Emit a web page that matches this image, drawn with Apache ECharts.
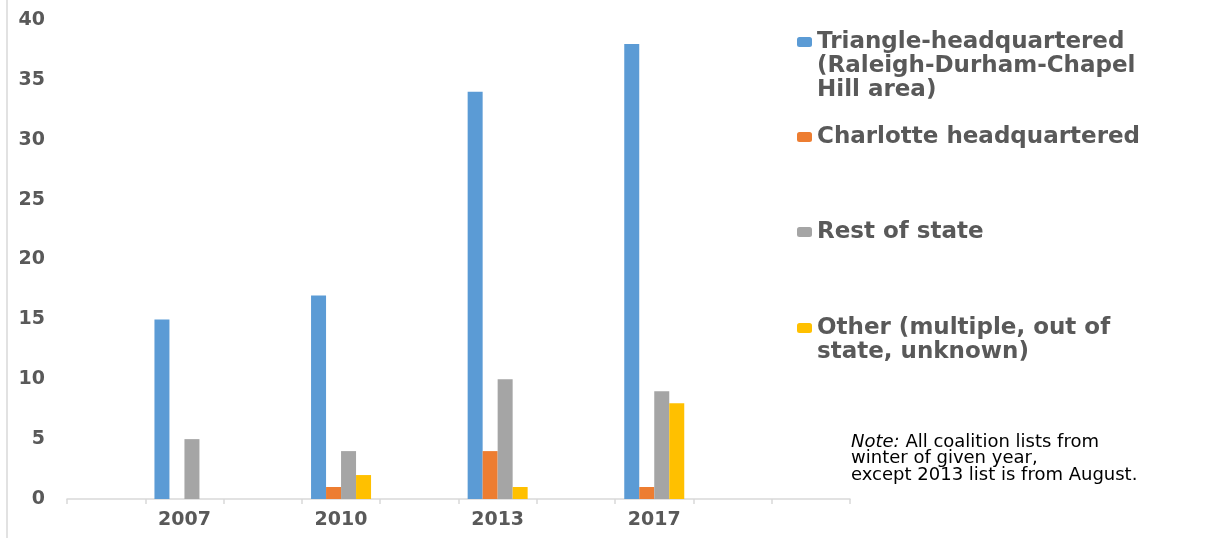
<!DOCTYPE html>
<html>
<head>
<meta charset="utf-8">
<script src="https://cdn.jsdelivr.net/npm/echarts@6/dist/echarts.min.js"></script>
<style>
html,body{margin:0;padding:0;background:#fff;}
#chart{width:1206px;height:538px;}
</style>
</head>
<body>
<div id="chart"></div>
<script>
// Categories (blank slots reproduce the spacing of the original chart)
var categories = ['', '2007', '', '2010', '', '2013', '', '2017', '', ''];
var seriesNames = [
  'Triangle-headquartered (Raleigh-Durham-Chapel Hill area)',
  'Charlotte headquartered',
  'Rest of state',
  'Other (multiple, out of state, unknown)'
];
var legendLines = [
  'Triangle-headquartered\n(Raleigh-Durham-Chapel\nHill area)',
  'Charlotte headquartered',
  'Rest of state',
  'Other (multiple, out of\nstate, unknown)'
];
var triangle  = [null, 15, null, 17, null, 34, null, 38, null, null];
var charlotte = [null, 0,  null, 1,  null, 4,  null, 1,  null, null];
var restState = [null, 5,  null, 4,  null, 10, null, 9,  null, null];
var other     = [null, 0,  null, 2,  null, 1,  null, 8,  null, null];
var yTicks = [0, 5, 10, 15, 20, 25, 30, 35, 40];
var colors = ['#5B9BD5', '#ED7D31', '#A5A5A5', '#FFC000'];
var noteText = 'All coalition lists from\nwinter of given year,\nexcept 2013 list is from August.';

var seriesData = [triangle, charlotte, restState, other];
var chart = echarts.init(document.getElementById('chart'));

var LH = 24;
var legendTops = [-18, 125, 220, 292];
var legends = seriesNames.map(function (name, i) {
  var n = legendLines[i].split('\n').length;
  // leading blank lines keep the first text line level with the legend icon
  var label = new Array(n).join('\n') + legendLines[i];
  return {
    data: [name],
    orient: 'vertical',
    left: 797,
    top: legendTops[i],
    padding: 0,
    itemWidth: 15,
    itemHeight: 10,
    itemGap: 0,
    formatter: function () { return label; },
    textStyle: {
      fontFamily: 'DejaVu Sans',
      fontWeight: 'bold',
      fontSize: 23,
      lineHeight: LH,
      color: '#595959'
    }
  };
});

var option = {
  animation: false,
  color: colors,
  grid: { left: 67, right: 356, top: 20, bottom: 39 },
  legend: legends,
  xAxis: {
    type: 'category',
    data: categories,
    axisLine: { lineStyle: { color: '#d9d9d9', width: 1.5 } },
    axisTick: { show: true, interval: 0, length: 5, lineStyle: { color: '#d9d9d9', width: 1.5 } },
    axisLabel: {
      interval: 0,
      margin: 12,
      fontFamily: 'DejaVu Sans',
      fontWeight: 'bold',
      fontSize: 19,
      color: '#595959'
    }
  },
  yAxis: {
    type: 'value',
    min: yTicks[0],
    max: yTicks[yTicks.length - 1],
    interval: 5,
    axisLine: { show: false },
    axisTick: { show: false },
    splitLine: { show: false },
    axisLabel: {
      margin: 22,
      fontFamily: 'DejaVu Sans',
      fontWeight: 'bold',
      fontSize: 19,
      color: '#595959'
    }
  },
  series: seriesNames.map(function (name, i) {
    return {
      name: name,
      type: 'bar',
      data: seriesData[i],
      barWidth: 15,
      barGap: '0%',
      itemStyle: { color: colors[i] }
    };
  }),
  graphic: [
    {
      type: 'line',
      shape: { x1: 7, y1: 0, x2: 7, y2: 538 },
      style: { stroke: '#d9d9d9', lineWidth: 1.5 },
      silent: true
    },
    {
      type: 'text',
      x: 851,
      y: 434,
      style: {
        text: '{i|Note:} ' + noteText,
        font: '18px "DejaVu Sans"',
        fill: '#000',
        lineHeight: 16.5,
        verticalAlign: 'top',
        rich: {
          i: { fontStyle: 'italic', fontFamily: 'DejaVu Sans', fontSize: 18, fill: '#000', lineHeight: 16.5 }
        }
      }
    }
  ]
};
chart.setOption(option);
</script>
</body>
</html>
